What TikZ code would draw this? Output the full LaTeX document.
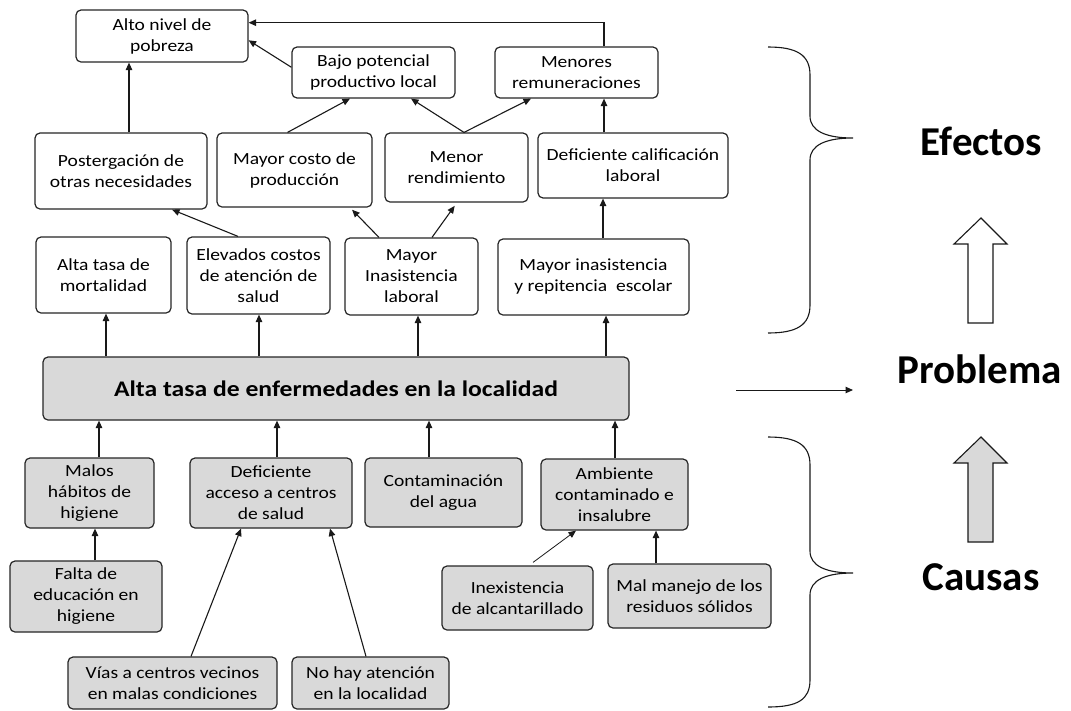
\documentclass[tikz,border=0pt]{standalone}
\usepackage{fontspec}
\setmainfont{Carlito}[FakeStretch=1.15]
\newfontfamily\bigfont{Carlito}
\usetikzlibrary{arrows.meta,calc}
\tikzset{
  box/.style={draw=black!85, line width=1.2pt, rounded corners=5pt, align=center,
    inner sep=0pt, font=\fontsize{17}{21}\selectfont},
  ebox/.style={box, fill=white},
  cbox/.style={box, fill=black!15},
  wh/.style 2 args={minimum width=#1, minimum height=#2},
  arr/.style={-{Triangle[length=7.5pt,width=6.5pt]}, line width=1.1pt, black!90},
  thinarr/.style={-{Triangle[length=7.5pt,width=6.5pt]}, line width=0.8pt, black!90},
  bigtxt/.style={font=\bigfont\bfseries\fontsize{41}{48}\selectfont, inner sep=0pt, anchor=base},
  bracestyle/.style={line width=1.1pt, black!90},
  fatarrow/.style={line width=1.1pt, draw=black!90}
}
\begin{document}
\begin{tikzpicture}[x=1pt,y=-1pt]
\fill[white] (0,0) rectangle (1071,710);
\useasboundingbox (0,0) rectangle (1071,710);

% effects
\node[ebox, wh={172}{52}] (alto) at (162,36) {Alto nivel de\\pobreza};
\node[ebox, wh={163}{51}] (bajo) at (373.5,72.5) {Bajo potencial\\productivo local};
\node[ebox, wh={163}{51}] (menores) at (576.5,72.5) {Menores\\remuneraciones};
\node[ebox, wh={172}{76}] (post) at (121,171) {Postergación de\\otras necesidades};
\node[ebox, wh={155}{74}] (costo) at (294.5,170) {Mayor costo de\\producción};
\node[ebox, wh={143}{69}] (rend) at (456.5,167.5) {Menor\\rendimiento};
\node[ebox, wh={190}{65}] (defcal) at (633,165.5) {Deficiente calificación\\laboral};
\node[ebox, wh={135}{76}] (mort) at (103.5,275) {Alta tasa de\\mortalidad};
\node[ebox, wh={143}{77}] (elev) at (258.5,275.5) {Elevados costos\\de atención de\\salud};
\node[ebox, wh={133}{77}] (inasL) at (411.5,276.5) {Mayor\\Inasistencia\\laboral};
\node[ebox, wh={191}{76}] (rep) at (593.5,277) {Mayor inasistencia\\y repitencia\ \ escolar};

% problem
\node[cbox, wh={586}{63}, font=\bfseries\fontsize{22.3}{26}\selectfont] (main) at (336,388.5) {Alta tasa de enfermedades en la localidad};

% causes
\node[cbox, wh={129}{70}] (malos) at (89.5,493) {Malos\\hábitos de\\higiene};
\node[cbox, wh={162}{70}] (defacc) at (271,493) {Deficiente\\acceso a centros\\de salud};
\node[cbox, wh={157}{69}] (cont) at (443.5,492.5) {Contaminación\\del agua};
\node[cbox, wh={147}{71}] (amb) at (614.5,494.5) {Ambiente\\contaminado e\\insalubre};
\node[cbox, wh={152}{71}] (falta) at (86,596.5) {Falta de\\educación en\\higiene};
\node[cbox, wh={151}{64}] (inex) at (517.5,598) {Inexistencia\\de alcantarillado};
\node[cbox, wh={163}{64}] (malm) at (689.5,596) {Mal manejo de los\\residuos sólidos};
\node[cbox, wh={209}{52}] (vias) at (172.5,683) {Vías a centros vecinos\\en malas condiciones};
\node[cbox, wh={157}{52}] (nohay) at (370.5,683) {No hay atención\\en la localidad};

% effect connectors
\draw[arr] ([xshift=8]post.north) -- ([xshift=8]post.north |- alto.south);
\draw[arr] ($(bajo.north west)!0.4!(bajo.south west)$) -- ($(alto.north east)!0.58!(alto.south east)$);
\draw[arr] ([xshift=27.5]menores.north) |- ($(alto.north east)!0.25!(alto.south east)$);
\draw[arr] ([xshift=-7]costo.north) -- ([xshift=-23.5]bajo.south);
\draw[arr] ([xshift=7.5]rend.north) -- ([xshift=37.5]bajo.south);
\draw[arr] ([xshift=7.5]rend.north) -- ([xshift=-45.5]menores.south);
\draw[arr] ([xshift=-29]defcal.north) -- ([xshift=-29]defcal.north |- menores.south);
\draw[arr] ([xshift=-20.5]elev.north) -- ([xshift=51]post.south);
\draw[arr, shorten >=3pt] ([xshift=-32.5]inasL.north) -- ([xshift=55.5]costo.south);
\draw[arr, shorten >=4pt] ([xshift=20.5]inasL.north) -- ([xshift=0.5]rend.south);
\draw[arr] ([xshift=9.5]rep.north) -- ([xshift=9.5]rep.north |- defcal.south);

% problem -> effects
\draw[arr] ([xshift=2.5]mort.south |- main.north) -- ([xshift=2.5]mort.south);
\draw[arr] ([xshift=0.5]elev.south |- main.north) -- ([xshift=0.5]elev.south);
\draw[arr] ([xshift=6.5]inasL.south |- main.north) -- ([xshift=6.5]inasL.south);
\draw[arr] ([xshift=12.5]rep.south |- main.north) -- ([xshift=12.5]rep.south);

% causes -> problem
\draw[arr] ([xshift=9.5]malos.north) -- ([xshift=9.5]malos.north |- main.south);
\draw[arr] ([xshift=6]defacc.north) -- ([xshift=6]defacc.north |- main.south);
\draw[arr] ([xshift=-14.5]cont.north) -- ([xshift=-14.5]cont.north |- main.south);
\draw[arr] ([xshift=0.5]amb.north) -- ([xshift=0.5]amb.north |- main.south);

% sub-causes
\draw[arr] ([xshift=9]falta.north) -- ([xshift=9]falta.north |- malos.south);
\draw[arr] ([xshift=18.5]vias.north) -- ([xshift=-30]defacc.south);
\draw[arr] ([xshift=-4.5]nohay.north) -- ([xshift=59]defacc.south);
\draw[thinarr] ([xshift=15.5,yshift=3]inex.north) -- ([xshift=-38.5]amb.south);
\draw[arr] ([xshift=-33.5]malm.north) -- ([xshift=-33.5]malm.north |- amb.south);

% right side
\draw[bracestyle] (768,47) .. controls (797,47) and (810,55) .. (810,75)
  -- (810,116) .. controls (810,131) and (826,138) .. (853,138)
  .. controls (826,138) and (810,145) .. (810,160)
  -- (810,305) .. controls (810,325) and (797,333) .. (768,333);
\draw[bracestyle] (768,437) .. controls (797,437) and (810,445) .. (810,465)
  -- (810,551) .. controls (810,566) and (826,573) .. (853,573)
  .. controls (826,573) and (810,580) .. (810,595)
  -- (810,680) .. controls (810,700) and (797,707) .. (768,707);

\node[bigtxt] (efectos) at (981.5,155) {Efectos};
\node[bigtxt] (problema) at (980,383) {Problema};
\node[bigtxt] (causas) at (981,590) {Causas};

\coordinate (pa) at (736,390);
\coordinate (pb) at (853,390);
\draw[arr, line width=1pt] (pa) -- (pb);

\draw[fatarrow, fill=white] (968,323) -- (968,244) -- (954,244) -- (981,218) -- (1007,244) -- (993,244) -- (993,323) -- cycle;
\draw[fatarrow, fill=black!15] (968,542) -- (968,463) -- (954,463) -- (981,437) -- (1007,463) -- (993,463) -- (993,542) -- cycle;
\end{tikzpicture}
\end{document}
